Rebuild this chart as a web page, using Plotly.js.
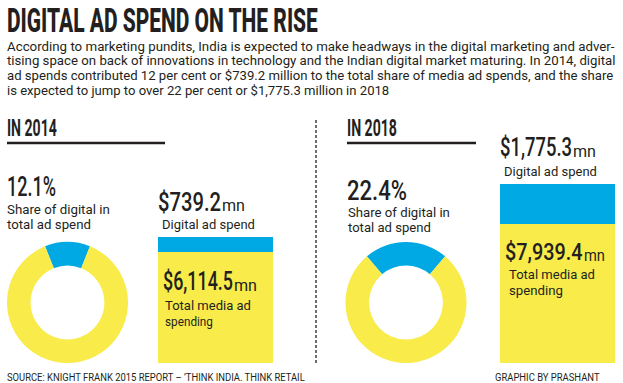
<!DOCTYPE html>
<html>
<head>
<meta charset="utf-8">
<script src="https://cdn.plot.ly/plotly-3.0.1.min.js"></script>
<style>
html,body{margin:0;padding:0;background:#fff;}
#chart{width:623px;height:383px;}
</style>
</head>
<body>
<div id="chart"></div>
<script>
// ---- data ----
const years = ['2014', '2018'];
const digitalShare = [12.1, 22.4];          // % share of digital in total ad spend
const digitalSpend = [739.2, 1775.3];       // $ mn
const totalSpend = [6114.5, 7939.4];        // $ mn total media ad spending

const titleText = 'DIGITAL AD SPEND ON THE RISE';
const bodyLines = [
  'According to marketing pundits, India is expected to make headways in the digital marketing and adver-',
  'tising space on back of innovations in technology and the Indian digital market maturing. In 2014, digital',
  'ad spends contributed 12 per cent or $739.2 million to the total share of media ad spends, and the share',
  'is expected to jump to over 22 per cent or $1,775.3 million in 2018'
];
const shareLabel = ['Share of digital in', 'total ad spend'];
const digitalLabel = 'Digital ad spend';
const totalLabel = ['Total media ad', 'spending'];
const unitLabel = 'mn';
const sourceText = "SOURCE: KNIGHT FRANK 2015 REPORT \u2013 \u2019THINK INDIA. THINK RETAIL";
const creditText = 'GRAPHIC BY PRASHANT';

// ---- style ----
const W = 623, H = 383;
const BLUE = '#00a8e4', YELLOW = '#f8eb4a', INK = '#231f20';
const HEAD = "Roboto, 'Liberation Sans', sans-serif";
const BODY = "Roboto, 'Liberation Sans', sans-serif";
const px = x => x / W;
const py = y => 1 - y / H;
const fmt = v => '$' + v.toLocaleString('en-US', {minimumFractionDigits: 1, maximumFractionDigits: 1});

const annotations = [];
const targetWidths = [];
// text placed with its left edge at pixel l, vertical centre at pixel cy, squeezed to width w
function ann(text, l, w, cy, size, weight, family) {
  annotations.push({
    xref: 'paper', yref: 'paper', x: px(l), y: py(cy),
    xanchor: 'left', yanchor: 'middle', align: 'left', showarrow: false,
    text: text, borderpad: 0, borderwidth: 0,
    font: {family: family || HEAD, size: size, color: INK, weight: weight || 400}
  });
  targetWidths.push(w);
}

// title + body
ann(titleText, 7, 311, 20.2, 34, 800);
const bodyY = [46.5, 61.5, 76.5, 91];
const bodyW = [609, 609, 607, 383];
bodyLines.forEach((t, i) => ann(t, 7, bodyW[i], bodyY[i], 12, 400, BODY));

// 2014 block
ann('IN ' + years[0], 7, 50, 128, 24, 700);
ann(digitalShare[0].toFixed(1) + '%', 7, 49, 186, 28, 500);
ann(shareLabel[0], 7, 103, 209.5, 12, 400, BODY);
ann(shareLabel[1], 7, 84, 225, 12, 400, BODY);
ann(fmt(digitalSpend[0]), 158, 63, 202, 25, 500);
ann(unitLabel, 222, 23, 205, 17, 400);
ann(digitalLabel, 162, 93, 224.5, 12.5, 400, BODY);
ann(fmt(totalSpend[0]), 163, 70, 281.5, 25, 500);
ann(unitLabel, 234, 23, 285, 17, 400);
ann(totalLabel[0], 165, 86, 305, 12.5, 400, BODY);
ann(totalLabel[1], 165, 48, 321, 12.5, 400, BODY);

// 2018 block
ann('IN ' + years[1], 347, 50, 128, 24, 700);
ann(digitalShare[1].toFixed(1) + '%', 347, 60, 190, 28, 500);
ann(shareLabel[0], 348, 102, 213.5, 12, 400, BODY);
ann(shareLabel[1], 348, 83, 228, 12, 400, BODY);
ann(fmt(digitalSpend[1]), 500, 72, 148, 25, 500);
ann(unitLabel, 573, 23, 151, 17, 400);
ann(digitalLabel, 504, 93, 171, 12.5, 400, BODY);
ann(fmt(totalSpend[1]), 505, 78, 251.5, 24, 500);
ann(unitLabel, 584, 21, 255, 17, 400);
ann(totalLabel[0], 509, 86, 274, 12.5, 400, BODY);
ann(totalLabel[1], 509, 54, 290, 12.5, 400, BODY);

// footer
ann(sourceText, 7, 298, 377, 11, 400, BODY);
ann(creditText, 495, 105, 377, 11, 400, BODY);

// ---- traces ----
const traces = [];
const pieX = [[7, 128], [345, 467]];
years.forEach((yr, i) => {
  traces.push({
    type: 'pie', values: [digitalShare[i], 100 - digitalShare[i]],
    labels: ['Digital', 'Other'], sort: false, direction: 'clockwise',
    rotation: -digitalShare[i] * 3.6 / 2, hole: 0.61, textinfo: 'none',
    marker: {colors: [BLUE, YELLOW], line: {width: 0}},
    domain: {x: [px(pieX[i][0]), px(pieX[i][1])], y: [py(363), py(242)]},
    showlegend: false, hoverinfo: 'skip'
  });
});
years.forEach((yr, i) => {
  const xa = i === 0 ? 'x' : 'x2', ya = i === 0 ? 'y' : 'y2';
  traces.push({type: 'bar', x: [yr], y: [totalSpend[i] - digitalSpend[i]], width: 1,
    marker: {color: YELLOW, line: {width: 0}}, xaxis: xa, yaxis: ya, showlegend: false, hoverinfo: 'skip'});
  traces.push({type: 'bar', x: [yr], y: [digitalSpend[i]], width: 1,
    marker: {color: BLUE, line: {width: 0}}, xaxis: xa, yaxis: ya, showlegend: false, hoverinfo: 'skip'});
});

const hidden = {visible: false, fixedrange: true};
const layout = {
  width: W, height: H, margin: {l: 0, r: 0, t: 0, b: 0},
  paper_bgcolor: '#fff', plot_bgcolor: 'rgba(0,0,0,0)',
  barmode: 'stack', bargap: 0, showlegend: false,
  xaxis: Object.assign({domain: [px(158), px(273)], anchor: 'y', type: 'category', range: [-0.5, 0.5]}, hidden),
  yaxis: Object.assign({domain: [py(363), py(237)], anchor: 'x', range: [0, totalSpend[0]]}, hidden),
  xaxis2: Object.assign({domain: [px(500), px(615)], anchor: 'y2', type: 'category', range: [-0.5, 0.5]}, hidden),
  yaxis2: Object.assign({domain: [py(363), py(184)], anchor: 'x2', range: [0, totalSpend[1]]}, hidden),
  shapes: [
    {type: 'line', xref: 'paper', yref: 'paper', x0: px(7), x1: px(165), y0: py(143), y1: py(143), line: {color: INK, width: 2.5}},
    {type: 'line', xref: 'paper', yref: 'paper', x0: px(347), x1: px(476), y0: py(143), y1: py(143), line: {color: INK, width: 2.5}},
    {type: 'line', xref: 'paper', yref: 'paper', x0: px(316), x1: px(316), y0: py(120), y1: py(364), line: {color: INK, width: 1.3, dash: '3px,2px'}}
  ],
  annotations: annotations
};

Plotly.newPlot('chart', traces, layout, {staticPlot: true, displayModeBar: false}).then(gd => {
  gd.querySelectorAll('g.annotation').forEach(g => {
    const i = +g.getAttribute('data-index');
    const t = g.querySelector('text.annotation-text');
    const w = targetWidths[i];
    if (!t || !w) return;
    const bb = t.getBBox();
    if (!bb.width) return;
    const s = w / bb.width;
    const prev = t.getAttribute('transform') || '';
    t.setAttribute('transform', 'translate(' + (bb.x * (1 - s)) + ',0) scale(' + s + ',1) ' + prev);
    const bg = g.querySelector('rect.bg');
    if (bg) bg.setAttribute('width', w);
  });
});
</script>
</body>
</html>
